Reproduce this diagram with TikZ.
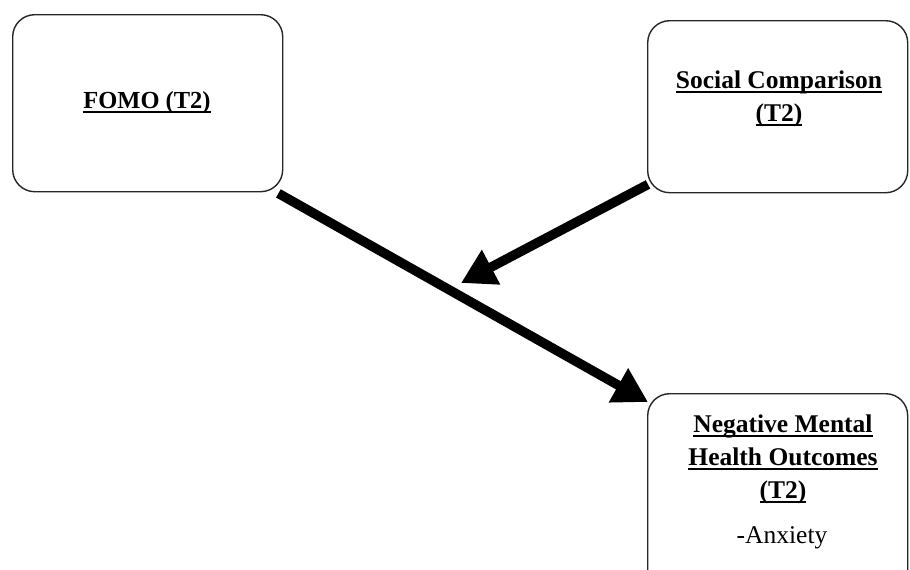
\documentclass[tikz,border=0pt]{standalone}
\usepackage{fontspec}
\setmainfont{Liberation Serif}
\usetikzlibrary{arrows.meta}
\newcommand{\ulbar}[1]{\setbox0=\hbox{#1}\rlap{\vrule height -2.5pt depth 4.5pt width \wd0}\box0}
\begin{document}
\begin{tikzpicture}[x=1pt,y=-1pt,
  box/.style={draw=black!85, line width=1.4pt, rounded corners=22pt, anchor=north west, inner sep=0pt},
  title/.style={font=\fontsize{25.5}{33}\selectfont\bfseries, align=center, inner sep=0pt},
  plain/.style={font=\fontsize{25.5}{33}\selectfont, inner sep=0pt},
  fat/.style={line width=9.5pt, -{Triangle[length=34pt,width=37pt]}}]
\useasboundingbox (0,0) rectangle (910,570);
\clip (0,0) rectangle (910,570);
% boxes
\node[box, minimum width=270pt, minimum height=177pt] (fomo) at (12,14) {};
\node[box, minimum width=260pt, minimum height=172pt] (soc) at (647,20) {};
\node[box, minimum width=260pt, minimum height=200pt] (nmh) at (647,393) {};
% texts
\node[title, font=\fontsize{24.5}{33}\selectfont\bfseries] (fomot) at (147,103) {\ulbar{FOMO (T2)}};
\node[title] (soct) at (779,99) {\ulbar{Social Comparison}\\\ulbar{(T2)}};
\node[title] (nmht) at (783,459) {\ulbar{Negative Mental}\\\ulbar{Health Outcomes}\\\ulbar{(T2)}};
\node[plain] (anx) at (782,538) {-Anxiety};
% connectors
\coordinate (mid) at (461,283);
\draw[fat] ([xshift=-5pt,yshift=-1pt]fomo.south east) -- ([xshift=1pt,yshift=-9pt]nmh.north west);
\draw[fat] ([xshift=1pt,yshift=9pt]soc.south west) -- (mid);
\end{tikzpicture}
\end{document}
